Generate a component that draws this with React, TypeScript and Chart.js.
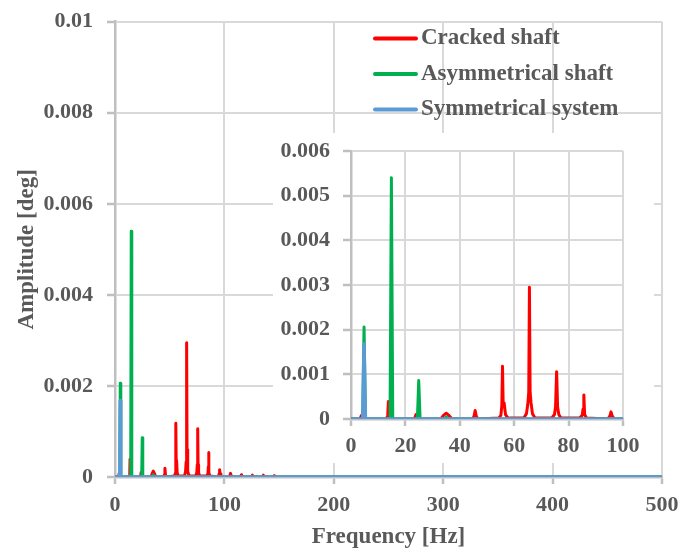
import React, { useEffect, useRef } from 'react';
import { Chart, registerables } from 'chart.js';

Chart.register(...registerables);

// ---------- data ----------
const seriesLabels = ['Cracked shaft', 'Asymmetrical shaft', 'Symmetrical system'];
const seriesColors = ['#FF0000', '#00B050', '#5B9BD5'];

// Cracked shaft (red)
const crackedFreq = [
  0, 3.3, 3.8, 4.3,
  13.0, 13.5, 13.75, 14.0, 14.5,
  23.3, 23.9, 24.5,
  33.0, 34.0, 35.0, 36.0, 37.2,
  44.5, 45.2, 45.65, 46.1, 46.8,
  54.3, 55.1, 55.45, 55.7, 55.95, 56.3, 56.8, 57.6,
  58.5, 63.6, 64.5, 65.0, 65.35, 65.6, 65.85, 66.2, 66.7, 67.6,
  73.8, 74.8, 75.2, 75.6, 75.95, 76.4, 77.2,
  84.0, 85.0, 85.3, 85.6, 85.9, 86.6,
  94.4, 95.2, 95.6, 96.0, 96.8,
  104.6, 105.6, 106.6,
  114.6, 115.6, 116.6,
  124.6, 125.6, 126.6,
  134.6, 135.6, 136.6,
  144.6, 145.6, 146.6,
  500,
];
const crackedAmp = [
  0, 0, 0.00008, 0,
  0, 0.00008, 0.00039, 0.00008, 0,
  0, 0.0001, 0,
  0, 0.00008, 0.00013, 0.00008, 0,
  0, 0.00005, 0.00019, 0.00005, 0,
  0.00002, 0.00008, 0.0003, 0.00118, 0.0003, 0.00036, 0.0001, 0.00003,
  0.00002, 0.00003, 0.00012, 0.00033, 0.0006, 0.00295, 0.0006, 0.00036, 0.00012, 0.00003,
  0.00002, 0.0001, 0.00027, 0.00106, 0.00027, 0.0001, 0.00002,
  0.00002, 0.00008, 0.00022, 0.00054, 0.0001, 0.00002,
  0, 0.00007, 0.00016, 0.00007, 0,
  0, 0.00008, 0,
  0, 0.00005, 0,
  0, 0.00004, 0,
  0, 0.00004, 0,
  0, 0.00003, 0,
  0,
];

// Asymmetrical shaft (green)
const asymFreq = [0, 4.3, 4.8, 5.3, 14.35, 14.85, 15.35, 24.4, 24.9, 25.4, 34.2, 35.0, 35.8, 500];
const asymAmp = [0, 0, 0.00206, 0, 0, 0.0054, 0, 0, 0.00086, 0, 0, 0.00005, 0, 0];

// Symmetrical system (blue)
const symFreq = [0, 4.3, 4.8, 5.3, 500];
const symAmp = [0, 0, 0.00168, 0, 0];

// ticks
const mainXTicks = [0, 100, 200, 300, 400, 500];
const mainXTickLabels = ['0', '100', '200', '300', '400', '500'];
const mainYTicks = [0, 0.002, 0.004, 0.006, 0.008, 0.01];
const mainYTickLabels = ['0', '0.002', '0.004', '0.006', '0.008', '0.01'];
const insetXTicks = [0, 20, 40, 60, 80, 100];
const insetXTickLabels = ['0', '20', '40', '60', '80', '100'];
const insetYTicks = [0, 0.001, 0.002, 0.003, 0.004, 0.005, 0.006];
const insetYTickLabels = ['0', '0.001', '0.002', '0.003', '0.004', '0.005', '0.006'];

// ---------- styling ----------
const FONT_FAMILY = "'Liberation Serif', 'Times New Roman', serif";
const TEXT_COLOR = '#595959';
const GRID_COLOR = '#d9d9d9';
const AXIS_COLOR = '#bfbfbf';

function makeDatasets() {
  const freqs = [crackedFreq, asymFreq, symFreq];
  const amps = [crackedAmp, asymAmp, symAmp];
  return seriesLabels.map((label, i) => ({
    label,
    data: freqs[i].map((f, j) => ({ x: f, y: amps[i][j] })),
    borderColor: seriesColors[i],
    backgroundColor: seriesColors[i],
    borderWidth: i === 2 ? 3.5 : 3,
    pointRadius: 0,
    pointHoverRadius: 0,
    tension: 0,
    fill: false,
    borderJoinStyle: 'round',
    borderCapStyle: 'round',
    order: 2 - i,
  }));
}

function makeScale(
  min: number, max: number, ticks: number[], labels: string[],
  fitSize: number, horizontal: boolean, padding: number, title?: any,
) {
  return {
    type: 'linear',
    min,
    max,
    afterBuildTicks: (scale: any) => {
      scale.ticks = ticks.map((v) => ({ value: v }));
    },
    afterFit: (scale: any) => {
      if (horizontal) scale.height = fitSize;
      else scale.width = fitSize;
      scale.paddingLeft = 0;
      scale.paddingRight = 0;
      scale.paddingTop = 0;
      scale.paddingBottom = 0;
    },
    ticks: {
      autoSkip: false,
      maxRotation: 0,
      minRotation: 0,
      padding,
      color: TEXT_COLOR,
      font: { family: FONT_FAMILY, size: 22, weight: 'bold' },
      callback: (_v: any, i: number) => labels[i],
    },
    grid: {
      color: GRID_COLOR,
      lineWidth: 2,
      drawTicks: true,
      tickLength: horizontal ? 7 : 8,
      tickColor: AXIS_COLOR,
      tickWidth: 2.5,
    },
    border: { display: true, color: AXIS_COLOR, width: 2.5 },
    title: title || { display: false },
  };
}

const legendPlugin = {
  id: 'cornerLegend',
  afterDraw(chart: any) {
    const ctx = chart.ctx;
    ctx.save();
    ctx.font = `bold 23px ${FONT_FAMILY}`;
    ctx.textBaseline = 'middle';
    ctx.textAlign = 'left';
    chart.data.datasets.forEach((ds: any, i: number) => {
      const y = 38.5 + i * 35.5;
      ctx.strokeStyle = ds.borderColor;
      ctx.lineWidth = 4;
      ctx.lineCap = 'round';
      ctx.beginPath();
      ctx.moveTo(375, y);
      ctx.lineTo(416, y);
      ctx.stroke();
      ctx.fillStyle = TEXT_COLOR;
      ctx.fillText(ds.label, 421, y);
    });
    ctx.restore();
  },
};

export default function App() {
  const mainRef = useRef<HTMLCanvasElement | null>(null);
  const insetRef = useRef<HTMLCanvasElement | null>(null);

  useEffect(() => {
    const titleFont = { family: FONT_FAMILY, size: 23, weight: 'bold' };
    const main = new Chart(mainRef.current as HTMLCanvasElement, {
      type: 'line',
      data: { datasets: makeDatasets() as any },
      options: {
        responsive: false,
        animation: false,
        events: [],
        layout: { padding: { top: 21.7, right: 18, left: 0, bottom: 0 } },
        plugins: { legend: { display: false }, tooltip: { enabled: false } },
        scales: {
          x: makeScale(0, 500, mainXTicks, mainXTickLabels, 75, true, 8, {
            display: true, text: 'Frequency [Hz]', color: TEXT_COLOR, font: titleFont,
            padding: { top: 0, bottom: 1 },
          }),
          y: makeScale(0, 0.01, mainYTicks, mainYTickLabels, 115, false, 14, {
            display: true, text: 'Amplitude [deg]', color: TEXT_COLOR, font: titleFont,
            padding: { top: 13, bottom: 0 },
          }),
        } as any,
      },
      plugins: [legendPlugin],
    } as any);

    const inset = new Chart(insetRef.current as HTMLCanvasElement, {
      type: 'line',
      data: { datasets: makeDatasets() as any },
      options: {
        responsive: false,
        animation: false,
        events: [],
        layout: { padding: { top: 18, right: 31, left: 0, bottom: 0 } },
        plugins: { legend: { display: false }, tooltip: { enabled: false } },
        scales: {
          x: makeScale(0, 100, insetXTicks, insetXTickLabels, 44, true, 7.5),
          y: makeScale(0, 0.006, insetYTicks, insetYTickLabels, 78, false, 13),
        } as any,
      },
    } as any);

    return () => {
      main.destroy();
      inset.destroy();
    };
  }, []);

  return (
    <div style={{ position: 'fixed', left: 0, top: 0, width: 680, height: 552, background: '#fff' }}>
      <canvas
        ref={mainRef}
        width={680}
        height={552}
        style={{ position: 'absolute', left: 0, top: 0, width: 680, height: 552 }}
      />
      <canvas
        ref={insetRef}
        width={381}
        height={330}
        style={{ position: 'absolute', left: 273, top: 133, width: 381, height: 330, background: '#fff' }}
      />
    </div>
  );
}
